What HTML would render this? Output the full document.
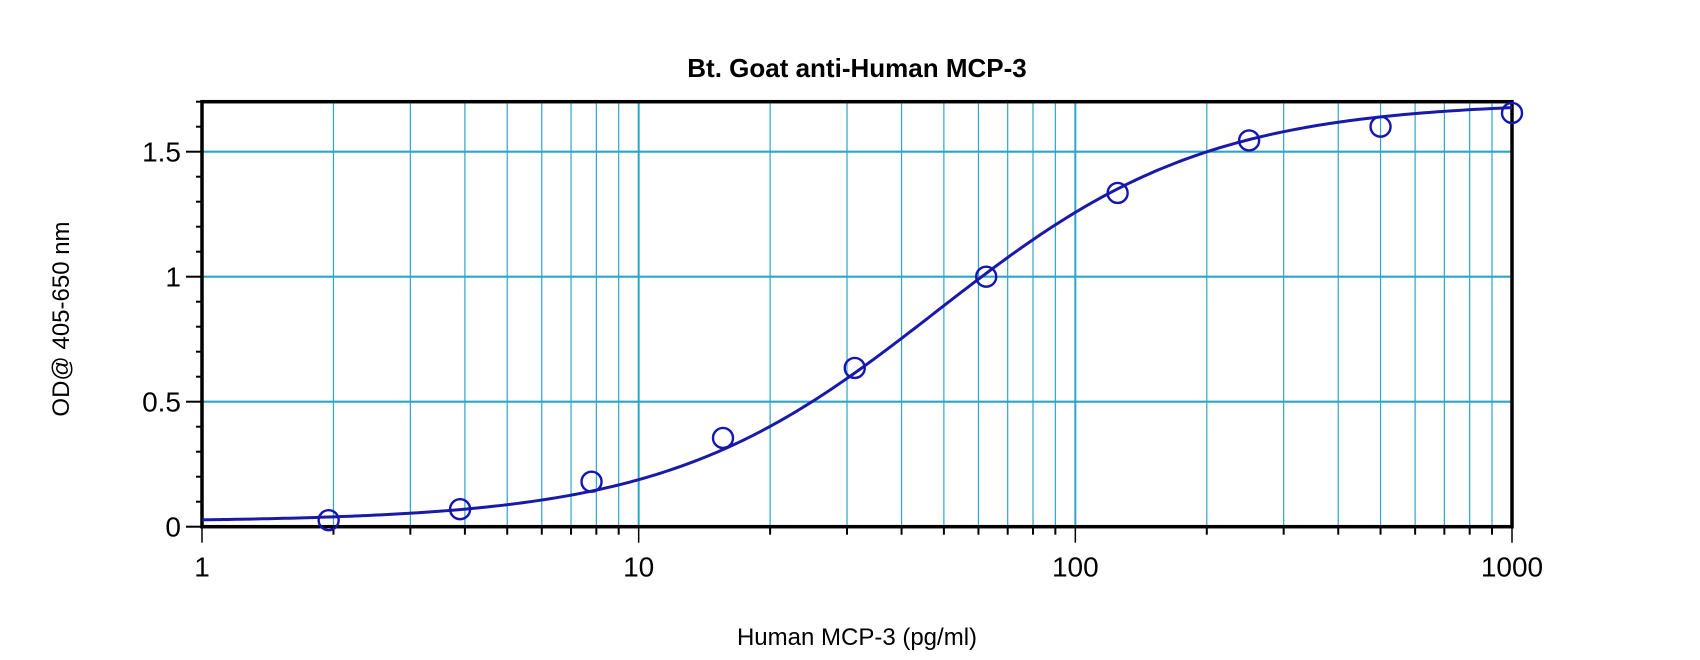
<!DOCTYPE html>
<html><head><meta charset="utf-8"><style>
html,body{margin:0;padding:0;background:#fff;}
svg{display:block;font-family:"Liberation Sans",Arial,sans-serif;}
</style></head><body>
<svg id="chart" width="1700" height="660" viewBox="0 0 1700 660" xmlns="http://www.w3.org/2000/svg">
<text x="857" y="77" text-anchor="middle" font-size="26" font-weight="bold">Bt. Goat anti-Human MCP-3</text>
<text transform="translate(69,319) rotate(-90)" text-anchor="middle" font-size="24">OD@ 405-650 nm</text>
<text x="857" y="645" text-anchor="middle" font-size="24">Human MCP-3 (pg/ml)</text>
<g id="grid"></g>
<g id="axes"></g>
<g id="series"></g>
</svg>
<script>
const concentrations = [1.95, 3.9, 7.8, 15.6, 31.25, 62.5, 125, 250, 500, 1000];
const odValues = [0.026, 0.07, 0.18, 0.355, 0.635, 1.0, 1.335, 1.545, 1.60, 1.655];
const fitParams = [0.02, 1.4, 48, 1.7]; // bottom, slope, EC50, top
const xTickLabels = ["1", "10", "100", "1000"];
const xTickValues = [1, 10, 100, 1000];
const yTickLabels = ["0", "0.5", "1", "1.5"];
const yTickValues = [0, 0.5, 1, 1.5];

const L = 202, R = 1512, T = 101.7, B = 526.7;
const xMin = 1, xMax = 1000, yMin = 0, yMax = 1.7;
const NS = "http://www.w3.org/2000/svg";
function xs(v){ return L + (Math.log10(v) - Math.log10(xMin)) / (Math.log10(xMax) - Math.log10(xMin)) * (R - L); }
function ys(v){ return B - (v - yMin) / (yMax - yMin) * (B - T); }
function mk(tag, attrs, parent){ const e = document.createElementNS(NS, tag); for (const k in attrs) e.setAttribute(k, attrs[k]); parent.appendChild(e); return e; }
const grid = document.getElementById('grid'), axes = document.getElementById('axes'), series = document.getElementById('series');
const gc = '#2ca6c8';

for (let d = 1; d < 1000; d *= 10) {
  for (let m = 2; m <= 9; m++) {
    const v = d * m; const x = xs(v);
    const g = mk('line', {x1:x, x2:x, y1:T, y2:B, stroke:gc, 'stroke-width':1.2}, grid);
    
    
    const t = mk('line', {x1:x, x2:x, y1:B, y2:B+8, stroke:'#000', 'stroke-width':2}, axes);
    
    
  }
}
xTickValues.forEach((v, i) => {
  const x = xs(v);
  if (v > xMin && v < xMax) {
    const g = mk('line', {x1:x, x2:x, y1:T, y2:B, stroke:gc, 'stroke-width':2}, grid);
    
    
  }
  const t = mk('line', {x1:x, x2:x, y1:B, y2:B+16, stroke:'#000', 'stroke-width':1.5}, axes);
  
  
  const lb = mk('text', {x:x, y:B+50, 'text-anchor':'middle', 'font-size':28}, axes);
  lb.textContent = xTickLabels[i];
  
  
});
for (let k = 1; k <= 17; k++) {
  const v = k / 10; if (Math.abs(v * 2 - Math.round(v * 2)) < 1e-9) continue;
  const y = ys(v);
  const t = mk('line', {x1:L-6, x2:L, y1:y, y2:y, stroke:'#000', 'stroke-width':2}, axes);
  
  
}
yTickValues.forEach((v, i) => {
  const y = ys(v);
  if (v > yMin) {
    const g = mk('line', {x1:L, x2:R, y1:y, y2:y, stroke:gc, 'stroke-width':2.2}, grid);
    
    
  }
  const t = mk('line', {x1:L-16, x2:L, y1:y, y2:y, stroke:'#000', 'stroke-width':2}, axes);
  
  
  const lb = mk('text', {x:L-21, y:y+10, 'text-anchor':'end', 'font-size':28}, axes);
  lb.textContent = yTickLabels[i];
  
  
});
const frame = mk('rect', {x:L, y:T, width:R-L, height:B-T, fill:'none', stroke:'#000', 'stroke-width':3.5}, axes);



function fit(x){ const [a,b,c,d] = fitParams; return d + (a - d) / (1 + Math.pow(x / c, b)); }
let dstr = '';
for (let i = 0; i <= 300; i++) {
  const lx = Math.log10(xMin) + i / 300 * (Math.log10(xMax) - Math.log10(xMin));
  const x = Math.pow(10, lx);
  dstr += (i ? 'L' : 'M') + xs(x).toFixed(2) + ',' + ys(fit(x)).toFixed(2);
}
const curve = mk('path', {d:dstr, fill:'none', stroke:'#1a1aa8', 'stroke-width':3}, series);


concentrations.forEach((c, i) => {
  const p = mk('circle', {cx:xs(c), cy:ys(odValues[i]), r:10, fill:'none', stroke:'#1515b0', 'stroke-width':2.4}, series);
  
  
});
</script>
</body></html>
